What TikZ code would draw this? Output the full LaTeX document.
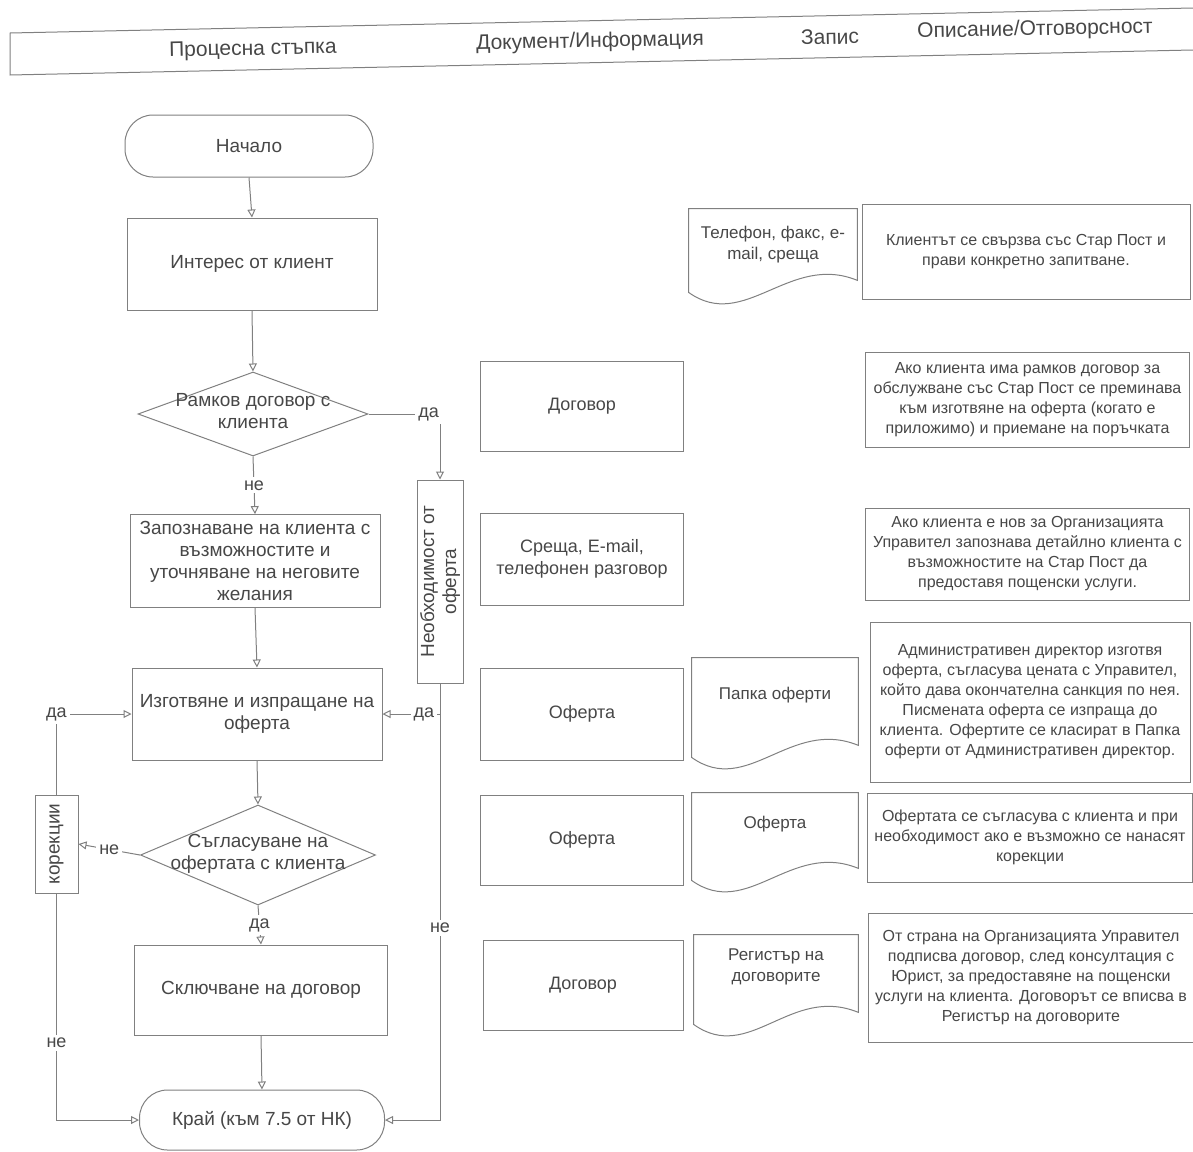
\documentclass[tikz,border=0pt]{standalone}
\usepackage{fontspec}
\setmainfont{Liberation Sans}
\usetikzlibrary{arrows.meta,shapes.geometric}

\newcommand{\dectext}[1]{\smash{\makebox[0pt]{\raisebox{-2pt}{\begin{tabular}{@{}c@{}}#1\end{tabular}}}}}
\newcommand{\recshape}[1]{%
  \draw[frameline] (#1.north west) -- (#1.north east) -- ([yshift=10pt]#1.south east)
    .. controls ([xshift=-34pt,yshift=24pt]#1.south east) and ([xshift=28pt,yshift=-16pt]#1.south west)
    .. ([yshift=4pt]#1.south west) -- cycle;}

\begin{document}
\begin{tikzpicture}[x=0.5pt,y=-0.5pt,
  >={Triangle[open,length=4pt,width=4pt]},
  every node/.style={font=\fontsize{9.5}{11}\selectfont,text=black!72},
  frameline/.style={draw=black!50,line width=0.5pt},
  arrow/.style={frameline,->},
  term/.style={frameline,rounded corners=14pt,minimum width=124pt,minimum height=31pt,align=center},
  proc/.style={frameline,minimum width=125pt,minimum height=46pt,align=center},
  dec/.style={frameline,diamond,inner sep=0pt},
  side/.style={frameline,rotate=90,align=center,inner sep=1pt},
  docbox/.style={frameline,minimum width=101.5pt,minimum height=45pt,align=center,font=\fontsize{9}{11}\selectfont},
  record/.style={minimum width=83pt,minimum height=48pt,text depth=18pt,align=center,font=\fontsize{8.5}{10.5}\selectfont},
  descbox/.style={frameline,minimum width=162pt,align=center,font=\fontsize{8}{10}\selectfont},
  head/.style={rotate=1.2,font=\fontsize{10.5}{12}\selectfont},
  lbl/.style={fill=white,inner sep=1.5pt,font=\fontsize{9}{10}\selectfont}
]
  \useasboundingbox (0,0) rectangle (1193,1151);

  \draw[frameline] (1193,8) -- (10,33) -- (10,75) -- (1193,50);
  \node[head] (hstep) at (253,50) {Процесна стъпка};
  \node[head] (hdoc) at (590,42) {Документ/Информация};
  \node[head] (hrec) at (830,37) {Запис};
  \node[head] (hdesc) at (1035,30) {Описание/Отговорсност};

  \node[term] (start) at (249,146) {Начало};
  \node[proc] (interest) at (252,264) {Интерес от клиент};
  \node[dec,minimum width=115pt,minimum height=42pt] (frame) at (253,414) {\dectext{Рамков договор с\\клиента}};
  \node[proc] (acquaint) at (255,561) {Запознаване на клиента с\\възможностите и\\уточняване на неговите\\желания};
  \node[proc] (offer) at (257,714) {Изготвяне и изпращане на\\оферта};
  \node[dec,minimum width=117.5pt,minimum height=50pt] (agree) at (258,855) {\dectext{Съгласуване на\\офертата с клиента}};
  \node[proc,minimum width=126.5pt,minimum height=45pt] (contract) at (261,990) {Сключване на договор};
  \node[term,minimum width=122.5pt,minimum height=30pt] (end) at (262,1120) {Край (към 7.5 от НК)};

  \node[side,minimum width=101.5pt,minimum height=23pt] (need) at (440,581.5) {Необходимост от\\оферта};
  \node[side,minimum width=49pt,minimum height=21.5pt] (fix) at (56.5,844) {корекции};

  \node[docbox] (dframe) at (582,406) {Договор};
  \node[docbox,minimum height=46pt] (dmeet) at (582,559) {Среща, E-mail,\\телефонен разговор};
  \node[docbox,minimum height=46pt] (doffer) at (582,714) {Оферта};
  \node[docbox] (dagree) at (582,840) {Оферта};
  \node[docbox,minimum width=100pt] (dcontract) at (583,985) {Договор};

  \node[record,minimum width=84pt,minimum height=45.5pt,text depth=12pt] (rcontact) at (773,254.5) {Телефон, факс, е-\\mail, среща};
  \node[record,minimum height=53.5pt] (roffer) at (775,711.5) {Папка оферти};
  \node[record,minimum height=47.5pt] (ragree) at (775,840.5) {Оферта};
  \node[record,minimum width=82pt,minimum height=48.5pt] (rcontract) at (776,983.5) {Регистър на\\договорите};
  \recshape{rcontact}
  \recshape{roffer}
  \recshape{ragree}
  \recshape{rcontract}

  \node[descbox,minimum width=164pt,minimum height=47.5pt] (econtact) at (1026,251.5) {Клиентът се свързва със Стар Пост и\\прави конкретно запитване.};
  \node[descbox,minimum height=47.5pt] (eframe) at (1027.5,399.5) {Ако клиента има рамков договор за\\обслужване със Стар Пост се преминава\\към изготвяне на оферта (когато е\\приложимо) и приемане на поръчката};
  \node[descbox,minimum height=46pt] (emeet) at (1027.5,554) {Ако клиента е нов за Организацията\\Управител запознава детайлно клиента с\\възможностите на Стар Пост да\\предоставя пощенски услуги.};
  \node[descbox,minimum width=160pt,minimum height=80pt] (eoffer) at (1030,702) {Административен директор изготвя\\оферта, съгласува цената с Управител,\\който дава окончателна санкция по нея.\\Писмената оферта се изпраща до\\клиента. Офертите се класират в Папка\\оферти от Административен директор.};
  \node[descbox,minimum width=160pt,minimum height=44.5pt] (eagree) at (1030,837.5) {Офертата се съгласува с клиента и при\\необходимост ако е възможно се нанасят\\корекции};
  \node[descbox,minimum width=159pt,minimum height=64.5pt] (econtract) at (1031,977.5) {От страна на Организацията Управител\\подписва договор, след консултация с\\Юрист, за предоставяне на пощенски\\услуги на клиента. Договорът се вписва в\\Регистър на договорите};

  \draw[arrow] (start.south) -- (interest.north);
  \draw[arrow] (interest.south) -- (frame.north);
  \draw[arrow] (frame.east) -| node[lbl,pos=0.42] {да} (need.east);
  \draw[arrow] (frame.south) -- node[lbl] {не} (acquaint.north);
  \draw[arrow] (acquaint.south) -- (offer.north);
  \draw[arrow] (need.west) |- node[lbl,pos=0.64] {да} (offer.east);
  \draw[arrow] (need.west) |- node[lbl,pos=0.28] {не} (end.east);
  \draw[arrow] (offer.south) -- (agree.north);
  \draw[arrow] (agree.west) -- node[lbl] {не} (fix.south);
  \draw[arrow] (fix.east) |- node[lbl,pos=0.5] {да} (offer.west);
  \draw[arrow] (fix.west) |- node[lbl,pos=0.33] {не} (end.west);
  \draw[arrow] (agree.south) -- node[lbl] {да} (contract.north);
  \draw[arrow] (contract.south) -- (end.north);
\end{tikzpicture}
\end{document}
